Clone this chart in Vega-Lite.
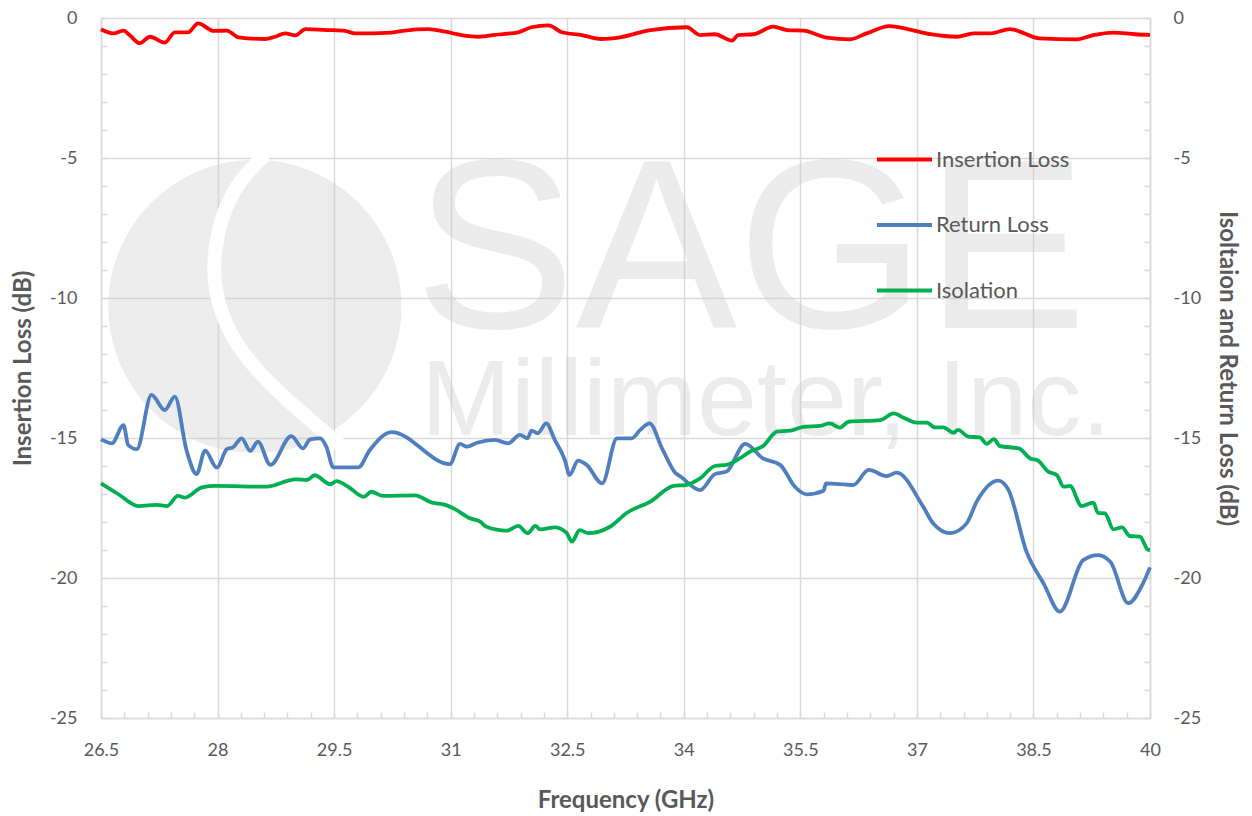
{
  "$schema": "https://vega.github.io/schema/vega-lite/v6.json",
  "width": 1049,
  "height": 700,
  "autosize": {"type": "none"},
  "padding": {"left": 101, "top": 18, "right": 102, "bottom": 98},
  "background": "white",
  "config": {
    "view": {"stroke": null},
    "axis": {
      "labelFont": "Lato", "labelFontSize": 18, "labelColor": "#595959",
      "titleFont": "Lato", "titleFontSize": 24, "titleFontWeight": "bold", "titleColor": "#595959",
      "domainColor": "#d9d9d9", "domainWidth": 1.5,
      "tickColor": "#d9d9d9", "tickWidth": 1.5, "tickSize": -6,
      "gridColor": "#d9d9d9", "gridWidth": 1.5,
      "labelFlush": false, "labelOverlap": false
    },
    "legend": {
      "labelFont": "Lato", "labelFontSize": 22, "labelColor": "#595959",
      "symbolType": "stroke", "symbolStrokeWidth": 3.8, "symbolSize": 3025,
      "rowPadding": 24.5, "labelOffset": 2
    }
  },
  "datasets": {
    "il": [
      {"f":26.5,"db":-0.40},{"f":26.66,"db":-0.55},{"f":26.79,"db":-0.45},{"f":26.87,"db":-0.62},{"f":27.0,"db":-0.90},{"f":27.13,"db":-0.67},{"f":27.32,"db":-0.88},{"f":27.45,"db":-0.51},{"f":27.62,"db":-0.51},{"f":27.75,"db":-0.19},{"f":27.95,"db":-0.46},{"f":28.12,"db":-0.45},{"f":28.27,"db":-0.69},{"f":28.61,"db":-0.75},{"f":28.74,"db":-0.67},{"f":28.87,"db":-0.55},{"f":29.0,"db":-0.62},{"f":29.13,"db":-0.40},{"f":29.43,"db":-0.43},{"f":29.64,"db":-0.46},{"f":29.77,"db":-0.55},{"f":30.24,"db":-0.52},{"f":30.41,"db":-0.45},{"f":30.71,"db":-0.40},{"f":30.93,"db":-0.49},{"f":31.14,"db":-0.61},{"f":31.36,"db":-0.67},{"f":31.57,"db":-0.60},{"f":31.87,"db":-0.51},{"f":32.04,"db":-0.33},{"f":32.26,"db":-0.26},{"f":32.43,"db":-0.51},{"f":32.69,"db":-0.61},{"f":32.94,"db":-0.75},{"f":33.18,"db":-0.69},{"f":33.57,"db":-0.43},{"f":34.04,"db":-0.33},{"f":34.21,"db":-0.61},{"f":34.4,"db":-0.58},{"f":34.62,"db":-0.81},{"f":34.7,"db":-0.61},{"f":34.9,"db":-0.58},{"f":35.15,"db":-0.31},{"f":35.33,"db":-0.43},{"f":35.54,"db":-0.45},{"f":35.84,"db":-0.70},{"f":36.14,"db":-0.76},{"f":36.35,"db":-0.55},{"f":36.65,"db":-0.29},{"f":36.87,"db":-0.39},{"f":37.17,"db":-0.58},{"f":37.51,"db":-0.67},{"f":37.73,"db":-0.55},{"f":37.94,"db":-0.55},{"f":38.2,"db":-0.40},{"f":38.58,"db":-0.73},{"f":39.06,"db":-0.76},{"f":39.27,"db":-0.61},{"f":39.53,"db":-0.52},{"f":39.81,"db":-0.58},{"f":40.0,"db":-0.60}
    ],
    "rl": [
      {"f":26.5,"db":-15.05},{"f":26.64,"db":-15.19},{"f":26.79,"db":-14.54},{"f":26.85,"db":-15.25},{"f":26.96,"db":-15.40},{"f":27.15,"db":-13.46},{"f":27.32,"db":-14.0},{"f":27.45,"db":-13.52},{"f":27.6,"db":-15.43},{"f":27.73,"db":-16.29},{"f":27.84,"db":-15.45},{"f":27.99,"db":-16.06},{"f":28.12,"db":-15.40},{"f":28.2,"db":-15.33},{"f":28.31,"db":-15.01},{"f":28.42,"db":-15.46},{"f":28.52,"db":-15.13},{"f":28.68,"db":-15.96},{"f":28.95,"db":-14.93},{"f":29.1,"db":-15.37},{"f":29.19,"db":-15.05},{"f":29.32,"db":-15.01},{"f":29.4,"db":-15.31},{"f":29.49,"db":-16.05},{"f":29.81,"db":-16.05},{"f":29.96,"db":-15.43},{"f":30.24,"db":-14.79},{"f":30.99,"db":-15.93},{"f":31.12,"db":-15.21},{"f":31.21,"db":-15.31},{"f":31.34,"db":-15.17},{"f":31.57,"db":-15.07},{"f":31.74,"db":-15.19},{"f":31.89,"db":-14.89},{"f":31.99,"db":-15.01},{"f":32.04,"db":-14.74},{"f":32.12,"db":-14.83},{"f":32.23,"db":-14.48},{"f":32.34,"db":-15.07},{"f":32.47,"db":-15.79},{"f":32.53,"db":-16.32},{"f":32.64,"db":-15.81},{"f":32.75,"db":-15.96},{"f":32.95,"db":-16.62},{"f":33.14,"db":-15.01},{"f":33.33,"db":-15.01},{"f":33.44,"db":-14.71},{"f":33.56,"db":-14.48},{"f":33.72,"db":-15.37},{"f":33.89,"db":-16.24},{"f":33.97,"db":-16.40},{"f":34.21,"db":-16.86},{"f":34.4,"db":-16.29},{"f":34.55,"db":-16.20},{"f":34.79,"db":-15.21},{"f":35.02,"db":-15.73},{"f":35.24,"db":-15.96},{"f":35.43,"db":-16.74},{"f":35.58,"db":-17.01},{"f":35.8,"db":-16.88},{"f":35.83,"db":-16.62},{"f":36.18,"db":-16.68},{"f":36.38,"db":-16.14},{"f":36.61,"db":-16.36},{"f":36.74,"db":-16.24},{"f":37.08,"db":-17.45},{"f":37.21,"db":-18.05},{"f":37.43,"db":-18.40},{"f":37.64,"db":-18.05},{"f":37.77,"db":-17.27},{"f":38.05,"db":-16.52},{"f":38.18,"db":-16.86},{"f":38.41,"db":-19.06},{"f":38.63,"db":-20.19},{"f":38.84,"db":-21.20},{"f":39.14,"db":-19.36},{"f":39.33,"db":-19.18},{"f":39.49,"db":-19.42},{"f":39.72,"db":-20.90},{"f":39.91,"db":-20.19},{"f":40.0,"db":-19.62}
    ],
    "iso": [
      {"f":26.5,"db":-16.62},{"f":26.72,"db":-17.0},{"f":26.98,"db":-17.43},{"f":27.22,"db":-17.39},{"f":27.35,"db":-17.43},{"f":27.49,"db":-17.07},{"f":27.58,"db":-17.13},{"f":27.8,"db":-16.76},{"f":27.97,"db":-16.71},{"f":28.63,"db":-16.74},{"f":29.0,"db":-16.48},{"f":29.15,"db":-16.50},{"f":29.25,"db":-16.33},{"f":29.45,"db":-16.65},{"f":29.53,"db":-16.54},{"f":29.68,"db":-16.74},{"f":29.88,"db":-17.10},{"f":29.98,"db":-16.92},{"f":30.13,"db":-17.07},{"f":30.54,"db":-17.05},{"f":30.76,"db":-17.31},{"f":30.93,"db":-17.39},{"f":31.06,"db":-17.55},{"f":31.25,"db":-17.87},{"f":31.38,"db":-17.99},{"f":31.46,"db":-18.17},{"f":31.72,"db":-18.31},{"f":31.87,"db":-18.14},{"f":31.99,"db":-18.40},{"f":32.09,"db":-18.14},{"f":32.15,"db":-18.26},{"f":32.34,"db":-18.19},{"f":32.49,"db":-18.38},{"f":32.56,"db":-18.70},{"f":32.66,"db":-18.29},{"f":32.77,"db":-18.40},{"f":33.05,"db":-18.17},{"f":33.27,"db":-17.67},{"f":33.57,"db":-17.27},{"f":33.87,"db":-16.71},{"f":34.02,"db":-16.68},{"f":34.21,"db":-16.44},{"f":34.4,"db":-16.0},{"f":34.55,"db":-15.96},{"f":34.72,"db":-15.73},{"f":34.85,"db":-15.49},{"f":35.02,"db":-15.29},{"f":35.2,"db":-14.77},{"f":35.37,"db":-14.74},{"f":35.54,"db":-14.60},{"f":35.75,"db":-14.57},{"f":35.88,"db":-14.48},{"f":36.01,"db":-14.63},{"f":36.12,"db":-14.42},{"f":36.53,"db":-14.36},{"f":36.7,"db":-14.12},{"f":36.83,"db":-14.28},{"f":37.0,"db":-14.45},{"f":37.13,"db":-14.45},{"f":37.23,"db":-14.62},{"f":37.34,"db":-14.62},{"f":37.47,"db":-14.81},{"f":37.53,"db":-14.71},{"f":37.66,"db":-14.95},{"f":37.81,"db":-14.98},{"f":37.9,"db":-15.21},{"f":37.99,"db":-15.04},{"f":38.07,"db":-15.29},{"f":38.31,"db":-15.37},{"f":38.46,"db":-15.73},{"f":38.56,"db":-15.81},{"f":38.69,"db":-16.20},{"f":38.8,"db":-16.32},{"f":38.89,"db":-16.74},{"f":38.97,"db":-16.71},{"f":39.12,"db":-17.43},{"f":39.27,"db":-17.31},{"f":39.33,"db":-17.67},{"f":39.42,"db":-17.69},{"f":39.53,"db":-18.26},{"f":39.64,"db":-18.19},{"f":39.74,"db":-18.50},{"f":39.87,"db":-18.52},{"f":39.97,"db":-18.98},{"f":40.0,"db":-19.0}
    ],
    "logoCurve": [
      {"f":28.57,"db":-5.0},{"f":28.16,"db":-6.14},{"f":27.93,"db":-8.29},{"f":27.97,"db":-10.07},{"f":28.22,"db":-11.68},{"f":28.68,"db":-13.11},{"f":29.19,"db":-14.36},{"f":29.58,"db":-15.25}
    ]
  },
  "layer": [
    {
      "data": {"values": [{"f": 28.48, "db": -10.3}]},
      "mark": {"type": "point", "shape": "circle", "filled": true, "color": "#c8c8c8", "opacity": 0.35, "size": 86000},
      "encoding": {
        "x": {"field": "f", "type": "quantitative", "scale": {"domain": [26.5, 40], "nice": false, "zero": false}, "axis": null},
        "y": {"field": "db", "type": "quantitative", "scale": {"domain": [-25, 0], "nice": false}, "axis": null}
      }
    },
    {
      "data": {"name": "logoCurve"},
      "mark": {"type": "line", "interpolate": "basis", "color": "white", "strokeWidth": 14, "strokeCap": "round"},
      "encoding": {
        "x": {"field": "f", "type": "quantitative", "scale": {"domain": [26.5, 40], "nice": false, "zero": false}, "axis": null},
        "y": {"field": "db", "type": "quantitative", "scale": {"domain": [-25, 0], "nice": false}, "axis": null},
        "order": {"field": "db", "sort": "descending"}
      }
    },
    {
      "data": {"values": [{"f": 34.86, "db": -11.07, "t": "SAGE"}]},
      "mark": {"type": "text", "font": "Liberation Sans", "fontSize": 242, "color": "#c8c8c8", "opacity": 0.35, "align": "center", "baseline": "alphabetic"},
      "encoding": {
        "x": {"field": "f", "type": "quantitative", "scale": {"domain": [26.5, 40], "nice": false, "zero": false}, "axis": null},
        "y": {"field": "db", "type": "quantitative", "scale": {"domain": [-25, 0], "nice": false}, "axis": null},
        "text": {"field": "t"}
      }
    },
    {
      "data": {"values": [{"f": 35.06, "db": -14.9, "t": "Millimeter, Inc."}]},
      "mark": {"type": "text", "font": "Liberation Sans", "fontSize": 108, "color": "#c8c8c8", "opacity": 0.35, "align": "center", "baseline": "alphabetic"},
      "encoding": {
        "x": {"field": "f", "type": "quantitative", "scale": {"domain": [26.5, 40], "nice": false, "zero": false}, "axis": null},
        "y": {"field": "db", "type": "quantitative", "scale": {"domain": [-25, 0], "nice": false}, "axis": null},
        "text": {"field": "t"}
      }
    },
    {
      "data": {"name": "il"},
      "mark": {"type": "line", "interpolate": "monotone", "strokeWidth": 3.8},
      "encoding": {
        "x": {"field": "f", "type": "quantitative", "scale": {"domain": [26.5, 40], "nice": false, "zero": false},
          "axis": {
            "title": "Frequency (GHz)",
            "values": [26.5,26.8,27.1,27.4,27.7,28,28.3,28.6,28.9,29.2,29.5,29.8,30.1,30.4,30.7,31,31.3,31.6,31.9,32.2,32.5,32.8,33.1,33.4,33.7,34,34.3,34.6,34.9,35.2,35.5,35.8,36.1,36.4,36.7,37,37.3,37.6,37.9,38.2,38.5,38.8,39.1,39.4,39.7,40],
            "labelExpr": "indexof([26.5,28,29.5,31,32.5,34,35.5,37,38.5,40], datum.value) >= 0 ? '' + datum.value : ''",
            "grid": true,
            "gridOpacity": {"condition": {"test": "indexof([26.5,28,29.5,31,32.5,34,35.5,37,38.5,40], datum.value) >= 0", "value": 1}, "value": 0},
            "labelPadding": 29,
            "titlePadding": 29
          }
        },
        "y": {"field": "db", "type": "quantitative", "scale": {"domain": [-25, 0], "nice": false},
          "axis": {
            "orient": "left",
            "title": "Insertion Loss (dB)",
            "values": [-25,-24,-23,-22,-21,-20,-19,-18,-17,-16,-15,-14,-13,-12,-11,-10,-9,-8,-7,-6,-5,-4,-3,-2,-1,0],
            "labelExpr": "datum.value % 5 === 0 ? '' + datum.value : ''",
            "grid": true,
            "gridOpacity": {"condition": {"test": "datum.value % 5 === 0", "value": 1}, "value": 0},
            "labelPadding": 30,
            "titlePadding": 14
          }
        },
        "color": {"datum": "Insertion Loss", "type": "nominal",
          "scale": {"domain": ["Insertion Loss", "Return Loss", "Isolation"], "range": ["#ff0000", "#4f7fbf", "#00b050"]},
          "legend": {"title": null, "orient": "none", "legendX": 774, "legendY": 112}
        }
      }
    },
    {
      "data": {"name": "rl"},
      "mark": {"type": "line", "interpolate": "monotone", "strokeWidth": 3.8},
      "encoding": {
        "x": {"field": "f", "type": "quantitative", "scale": {"domain": [26.5, 40], "nice": false, "zero": false}, "axis": null},
        "y": {"field": "db", "type": "quantitative", "scale": {"domain": [-25, 0], "nice": false},
          "axis": {
            "orient": "right",
            "title": "Isoltaion and Return Loss (dB)",
            "values": [-25,-24,-23,-22,-21,-20,-19,-18,-17,-16,-15,-14,-13,-12,-11,-10,-9,-8,-7,-6,-5,-4,-3,-2,-1,0],
            "labelExpr": "datum.value % 5 === 0 ? '' + datum.value : ''",
            "grid": false,
            "labelPadding": 29,
            "titlePadding": 14
          }
        },
        "color": {"datum": "Return Loss", "type": "nominal"}
      }
    },
    {
      "data": {"name": "iso"},
      "mark": {"type": "line", "interpolate": "monotone", "strokeWidth": 3.8},
      "encoding": {
        "x": {"field": "f", "type": "quantitative", "scale": {"domain": [26.5, 40], "nice": false, "zero": false}, "axis": null},
        "y": {"field": "db", "type": "quantitative", "scale": {"domain": [-25, 0], "nice": false}, "axis": null},
        "color": {"datum": "Isolation", "type": "nominal"}
      }
    }
  ],
  "resolve": {"scale": {"y": "independent"}, "axis": {"x": "independent"}}
}
